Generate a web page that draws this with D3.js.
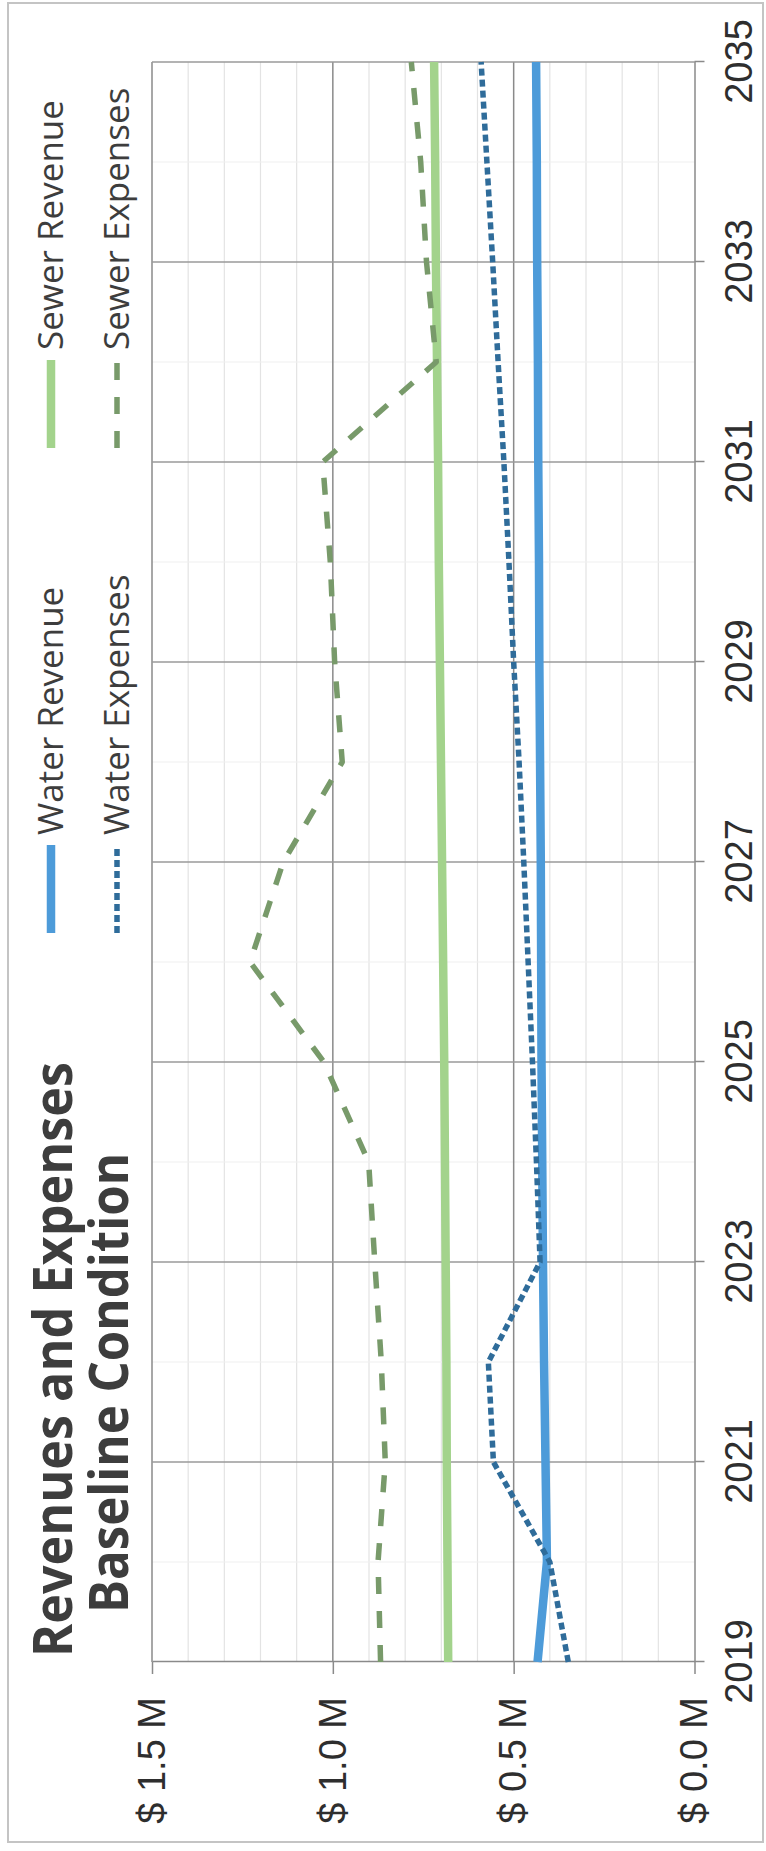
<!DOCTYPE html>
<html>
<head>
<meta charset="utf-8">
<script src="https://cdn.jsdelivr.net/npm/d3@7"></script>
<style>
  html, body { margin: 0; padding: 0; background: #ffffff; }
  svg { display: block; }
</style>
</head>
<body>
<script>
// ---------------- DATA ----------------
const years = [2019, 2020, 2021, 2022, 2023, 2024, 2025, 2026, 2027, 2028, 2029, 2030, 2031, 2032, 2033, 2034, 2035];
const waterRevenue  = [0.434, 0.408, 0.412, 0.416, 0.419, 0.421, 0.423, 0.424, 0.425, 0.427, 0.429, 0.430, 0.432, 0.433, 0.435, 0.436, 0.438];
const waterExpenses = [0.349, 0.400, 0.556, 0.570, 0.427, 0.437, 0.448, 0.460, 0.472, 0.485, 0.500, 0.513, 0.527, 0.543, 0.558, 0.574, 0.590];
const sewerRevenue  = [0.681, 0.683, 0.685, 0.686, 0.688, 0.690, 0.692, 0.695, 0.698, 0.701, 0.704, 0.707, 0.709, 0.712, 0.715, 0.717, 0.720];
const sewerExpenses = [0.868, 0.875, 0.855, 0.866, 0.884, 0.901, 1.025, 1.229, 1.137, 0.974, 0.995, 1.007, 1.028, 0.714, 0.741, 0.757, 0.783];

const yearTicks = [2019, 2021, 2023, 2025, 2027, 2029, 2031, 2033, 2035];
const valueTicks = [0, 0.5, 1.0, 1.5];
const valueTickLabels = ["$ 0.0 M", "$ 0.5 M", "$ 1.0 M", "$ 1.5 M"];
const minorValueTicks = [0.1, 0.2, 0.3, 0.4, 0.6, 0.7, 0.8, 0.9, 1.1, 1.2, 1.3, 1.4];

const titleLines = ["Revenues and Expenses", "Baseline Condition"];
const seriesNames = ["Water Revenue", "Water Expenses", "Sewer Revenue", "Sewer Expenses"];

// ---------------- LAYOUT (original landscape frame, then rotated) ----------------
const W = 766, H = 1851;
const plot = { left: 189, right: 1789, top: 152, bottom: 694.5 };

const svg = d3.select("body").append("svg").attr("width", W).attr("height", H);

// outer border
svg.append("rect")
  .attr("x", 8).attr("y", 3).attr("width", 755).attr("height", 1839)
  .attr("fill", "#ffffff").attr("stroke", "#c4c4c4").attr("stroke-width", 2);

const g = svg.append("g").attr("transform", `translate(0,${H}) rotate(-90)`);

const x = d3.scaleLinear().domain([2019, 2035]).range([plot.left, plot.right]);
const y = d3.scaleLinear().domain([0, 1.5]).range([plot.bottom, plot.top]);

// minor grid (values)
g.append("g").selectAll("line").data(minorValueTicks).join("line")
  .attr("x1", plot.left).attr("x2", plot.right)
  .attr("y1", d => y(d)).attr("y2", d => y(d))
  .attr("stroke", "#e3e3e3").attr("stroke-width", 1.2);

// minor grid (years)
g.append("g").selectAll("line").data(years.filter(d => !yearTicks.includes(d))).join("line")
  .attr("x1", d => x(d)).attr("x2", d => x(d))
  .attr("y1", plot.top).attr("y2", plot.bottom)
  .attr("stroke", "#efefef").attr("stroke-width", 1.2);

// major grid (values)
g.append("g").selectAll("line").data(valueTicks.slice(1)).join("line")
  .attr("x1", plot.left).attr("x2", plot.right)
  .attr("y1", d => y(d)).attr("y2", d => y(d))
  .attr("stroke", "#8a8a8a").attr("stroke-width", 1.5);

// major grid (years)
g.append("g").selectAll("line").data(yearTicks.slice(1)).join("line")
  .attr("x1", d => x(d)).attr("x2", d => x(d))
  .attr("y1", plot.top).attr("y2", plot.bottom)
  .attr("stroke", "#9a9a9a").attr("stroke-width", 1.5);

// axes
const yAxis = g.append("g").attr("transform", `translate(${plot.left},0)`)
  .call(d3.axisLeft(y).tickValues(valueTicks)
    .tickFormat((d, i) => valueTickLabels[i])
    .tickSizeInner(12).tickSizeOuter(0).tickPadding(23));
const xAxis = g.append("g").attr("transform", `translate(0,${plot.bottom})`)
  .call(d3.axisBottom(x).tickValues(yearTicks)
    .tickFormat(d3.format("d"))
    .tickSizeInner(10).tickSizeOuter(0).tickPadding(21));

[yAxis, xAxis].forEach(a => {
  a.select(".domain").attr("stroke", "#8a8a8a").attr("stroke-width", 1.5);
  a.selectAll(".tick line").attr("stroke", "#8a8a8a").attr("stroke-width", 1.5);
  a.selectAll(".tick text")
    .attr("fill", "#2e2e2e")
    .style("font-family", "'Liberation Sans', Arial, sans-serif")
    .style("font-size", "38px");
});

// series
const line = d3.line().x((d, i) => x(years[i])).y(d => y(d));
const series = [
  { name: seriesNames[0], values: waterRevenue,  color: "#4d9bd9", width: 8.5, dash: null },
  { name: seriesNames[1], values: waterExpenses, color: "#2f6c9a", width: 5.5, dash: "7 4" },
  { name: seriesNames[2], values: sewerRevenue,  color: "#a3d38c", width: 8.5, dash: null },
  { name: seriesNames[3], values: sewerExpenses, color: "#789a6a", width: 5.5, dash: "17 17" }
];

g.append("g").selectAll("path").data(series).join("path")
  .attr("d", d => line(d.values))
  .attr("fill", "none")
  .attr("stroke", d => d.color)
  .attr("stroke-width", d => d.width)
  .attr("stroke-dasharray", d => d.dash)
  .attr("stroke-linejoin", "round");

// title
const titleG = g.append("g")
  .style("font-family", "'Open Sans', 'Noto Sans', sans-serif")
  .style("font-weight", "bold")
  .style("font-size", "53px")
  .attr("fill", "#3d3d3d");
const titlePos = [{ x: 194, y: 72, len: 595 }, { x: 238, y: 128, len: 460 }];
titleG.selectAll("text").data(titleLines).join("text")
  .attr("x", (d, i) => titlePos[i].x)
  .attr("y", (d, i) => titlePos[i].y)
  .attr("textLength", (d, i) => titlePos[i].len)
  .attr("lengthAdjust", "spacingAndGlyphs")
  .text(d => d);

// legend
const legendPos = [
  { x: 918, y: 51 }, { x: 918, y: 117 },
  { x: 1403, y: 51 }, { x: 1403, y: 117 }
];
const leg = g.append("g").selectAll("g").data(series).join("g")
  .attr("transform", (d, i) => `translate(${legendPos[i].x},${legendPos[i].y})`);
leg.append("line")
  .attr("x1", 0).attr("x2", 88).attr("y1", 0).attr("y2", 0)
  .attr("stroke", d => d.color)
  .attr("stroke-width", d => d.width)
  .attr("stroke-dasharray", d => d.dash);
leg.append("text")
  .attr("x", 98).attr("y", 12)
  .attr("fill", "#3d3d3d")
  .style("font-family", "'Open Sans', 'Noto Sans', sans-serif")
  .style("font-size", "35px")
  .text(d => d.name);
</script>
</body>
</html>
